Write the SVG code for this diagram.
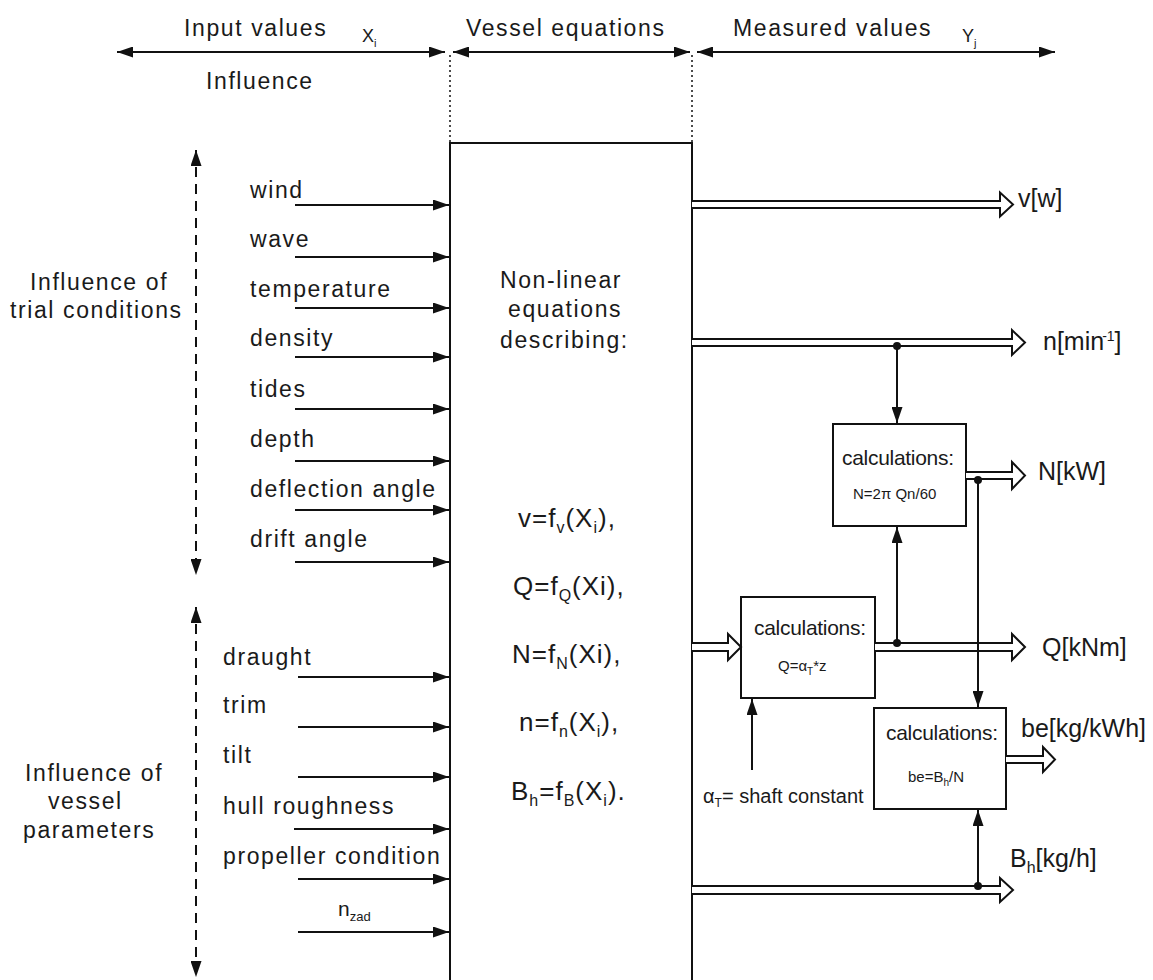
<svg xmlns="http://www.w3.org/2000/svg" width="1153" height="980" viewBox="0 0 1153 980">
<defs>
<marker id="ah" viewBox="0 0 16 11" refX="16" refY="5.5" markerWidth="16" markerHeight="11" markerUnits="userSpaceOnUse" orient="auto-start-reverse"><path d="M0,0 L16,5.5 L0,11 Z" fill="#111"/></marker>
<style>
text{font-family:"Liberation Sans",Arial,sans-serif;fill:#1a1a1a}
.lb{font-size:23px;letter-spacing:1.6px}
.eq{font-size:26px;letter-spacing:1px}
.sub{font-size:16px}
.out{font-size:25px}
.calc{font-size:21px;letter-spacing:-0.3px}
.sm{font-size:15px}
.ln{stroke:#111;stroke-width:2;fill:none}
.in{stroke:#111;stroke-width:2;fill:none;marker-end:url(#ah)}
.dash{stroke:#111;stroke-width:2;fill:none;stroke-dasharray:10 7;marker-start:url(#ah);marker-end:url(#ah)}
.dot{stroke:#111;stroke-width:1.5;fill:none;stroke-dasharray:2 3}
.dbl{stroke:#111;stroke-width:2;fill:#fff;stroke-linejoin:miter}
.box{stroke:#111;stroke-width:2;fill:#fff}
</style>
</defs>
<rect width="1153" height="980" fill="#fff"/>

<g id="header">
<line class="ln" x1="117" y1="52" x2="445" y2="52" style="marker-start:url(#ah);marker-end:url(#ah)"/>
<line class="ln" x1="453" y1="52" x2="690" y2="52" style="marker-start:url(#ah);marker-end:url(#ah)"/>
<line class="ln" x1="697" y1="52" x2="1055" y2="52" style="marker-start:url(#ah);marker-end:url(#ah)"/>
<line class="dot" x1="450" y1="55" x2="450" y2="143"/>
<line class="dot" x1="692" y1="55" x2="692" y2="143"/>
<text class="lb" x="184" y="36">Input values</text>
<text x="362" y="42" font-size="18" fill="#555">X<tspan font-size="11" dy="5">i</tspan></text>
<text class="lb" x="466" y="36">Vessel equations</text>
<text class="lb" x="733" y="36">Measured values</text>
<text x="962" y="42" font-size="18" fill="#555">Y<tspan font-size="11" dy="5">j</tspan></text>
<text class="lb" x="206" y="89">Influence</text>
</g>

<g id="group-trial">
<line class="dash" x1="196" y1="150" x2="196" y2="575"/>
<text class="lb" x="30" y="290">Influence of</text>
<text class="lb" x="10" y="318">trial conditions</text>
</g>
<g id="group-vessel">
<line class="dash" x1="196" y1="607" x2="196" y2="977"/>
<text class="lb" x="25" y="781">Influence of</text>
<text class="lb" x="48" y="809">vessel</text>
<text class="lb" x="23" y="838">parameters</text>
</g>

<g id="inputs">
<g id="in-wind"><text class="lb" x="250" y="198">wind</text></g>
<g id="in-wave"><text class="lb" x="250" y="247">wave</text></g>
<g id="in-temperature"><text class="lb" x="250" y="297">temperature</text></g>
<g id="in-density"><text class="lb" x="250" y="346">density</text></g>
<g id="in-tides"><text class="lb" x="250" y="397">tides</text></g>
<g id="in-depth"><text class="lb" x="250" y="447">depth</text></g>
<g id="in-deflection"><text class="lb" x="250" y="497">deflection angle</text></g>
<g id="in-drift"><text class="lb" x="250" y="547">drift angle</text></g>
<g id="in-draught"><text class="lb" x="223" y="665">draught</text></g>
<g id="in-trim"><text class="lb" x="223" y="713">trim</text></g>
<g id="in-tilt"><text class="lb" x="223" y="763">tilt</text></g>
<g id="in-hull"><text class="lb" x="223" y="814">hull roughness</text></g>
<g id="in-propeller"><text class="lb" x="223" y="864">propeller condition</text></g>
<g id="in-nzad"><text x="338" y="916" font-size="21">n<tspan font-size="13" dy="5">zad</tspan></text></g>
</g>

<g id="main-box">
<rect class="box" x="450" y="143" width="242" height="860"/>
<text class="lb" x="500" y="288">Non-linear</text>
<text class="lb" x="508" y="317">equations</text>
<text class="lb" x="500" y="348">describing:</text>
<text class="eq" x="518" y="527">v=f<tspan class="sub" dy="6">v</tspan><tspan dy="-6">(X</tspan><tspan class="sub" dy="6">i</tspan><tspan dy="-6">),</tspan></text>
<text class="eq" x="513" y="595">Q=f<tspan class="sub" dy="6">Q</tspan><tspan dy="-6">(Xi),</tspan></text>
<text class="eq" x="512" y="663">N=f<tspan class="sub" dy="6">N</tspan><tspan dy="-6">(Xi),</tspan></text>
<text class="eq" x="519" y="731">n=f<tspan class="sub" dy="6">n</tspan><tspan dy="-6">(X</tspan><tspan class="sub" dy="6">i</tspan><tspan dy="-6">),</tspan></text>
<text class="eq" x="511" y="800">B<tspan class="sub" dy="6">h</tspan><tspan dy="-6">=f</tspan><tspan class="sub" dy="6">B</tspan><tspan dy="-6">(X</tspan><tspan class="sub" dy="6">i</tspan><tspan dy="-6">).</tspan></text>
</g>

<g id="calc-N">
<rect class="box" x="833" y="424" width="133" height="102"/>
<text class="calc" x="842" y="465">calculations:</text>
<text class="sm" x="853" y="499">N=2π Qn/60</text>
</g>
<g id="calc-Q">
<rect class="box" x="741" y="597" width="134" height="101"/>
<text class="calc" x="754" y="635">calculations:</text>
<text class="sm" x="778" y="671">Q=α<tspan font-size="10" dy="4">T</tspan><tspan dy="-4">*z</tspan></text>
</g>
<g id="calc-be">
<rect class="box" x="874" y="708" width="132" height="101"/>
<text class="calc" x="886" y="740">calculations:</text>
<text class="sm" x="908" y="782">be=B<tspan font-size="10" dy="4">h</tspan><tspan dy="-4">/N</tspan></text>
</g>

<g id="outputs">
<g id="out-v"><text class="out" x="1018" y="207">v[w]</text></g>
<g id="out-n"><text class="out" x="1043" y="350">n[min<tspan font-size="14" dx="-2" dy="-9">-1</tspan><tspan dy="9">]</tspan></text></g>
<g id="out-N"><text class="out" x="1038" y="480">N[kW]</text></g>
<g id="out-Q"><text class="out" x="1042" y="656">Q[kNm]</text></g>
<g id="out-be"><text class="out" x="1021" y="737">be[kg/kWh]</text></g>
<g id="out-B"><text class="out" x="1010" y="867">B<tspan font-size="16" dy="6">h</tspan><tspan dy="-6">[kg/h]</tspan></text></g>
<g id="shaft"><text x="703" y="803" font-size="20">α<tspan font-size="12" dy="4">T</tspan><tspan dy="-4">= shaft constant</tspan></text></g>
</g>

<g id="connectors">
<line class="in" x1="295" y1="205" x2="449" y2="205"/>
<line class="in" x1="295" y1="257" x2="449" y2="257"/>
<line class="in" x1="295" y1="308" x2="449" y2="308"/>
<line class="in" x1="295" y1="357" x2="449" y2="357"/>
<line class="in" x1="295" y1="409" x2="449" y2="409"/>
<line class="in" x1="295" y1="461" x2="449" y2="461"/>
<line class="in" x1="295" y1="510" x2="449" y2="510"/>
<line class="in" x1="295" y1="562" x2="449" y2="562"/>
<line class="in" x1="298" y1="677" x2="449" y2="677"/>
<line class="in" x1="298" y1="727" x2="449" y2="727"/>
<line class="in" x1="298" y1="777" x2="449" y2="777"/>
<line class="in" x1="294" y1="829" x2="449" y2="829"/>
<line class="in" x1="298" y1="879" x2="449" y2="879"/>
<line class="in" x1="298" y1="932" x2="449" y2="932"/>

<path class="dbl" d="M692,201 H1000 V192.5 L1013,204.5 L1000,216.5 V208 H692"/>
<path class="dbl" d="M692,339 H1012 V330 L1025,342.5 L1012,355 V346 H692"/>
<path class="dbl" d="M966,472 H1012 V462 L1025,475.5 L1012,489 V479 H966"/>
<path class="dbl" d="M692,643 H728 V634 L741,647 L728,660 V651 H692"/>
<path class="dbl" d="M875,643 H1012 V634 L1025,647 L1012,660 V651 H875"/>
<path class="dbl" d="M1006,756 H1043 V747 L1055,759.5 L1043,772 V763 H1006"/>
<path class="dbl" d="M692,886 H1000 V878 L1013,890 L1000,902 V894 H692"/>

<line class="in" x1="897" y1="346" x2="897" y2="423"/>
<line class="in" x1="897" y1="643" x2="897" y2="527"/>
<line class="in" x1="978" y1="479" x2="978" y2="707"/>
<line class="in" x1="978" y1="886" x2="978" y2="810"/>
<line class="in" x1="752" y1="770" x2="752" y2="699"/>
<circle cx="897" cy="346" r="4" fill="#111"/>
<circle cx="897" cy="643" r="4" fill="#111"/>
<circle cx="978" cy="480" r="4" fill="#111"/>
<circle cx="978" cy="886" r="4" fill="#111"/>
</g>
</svg>
